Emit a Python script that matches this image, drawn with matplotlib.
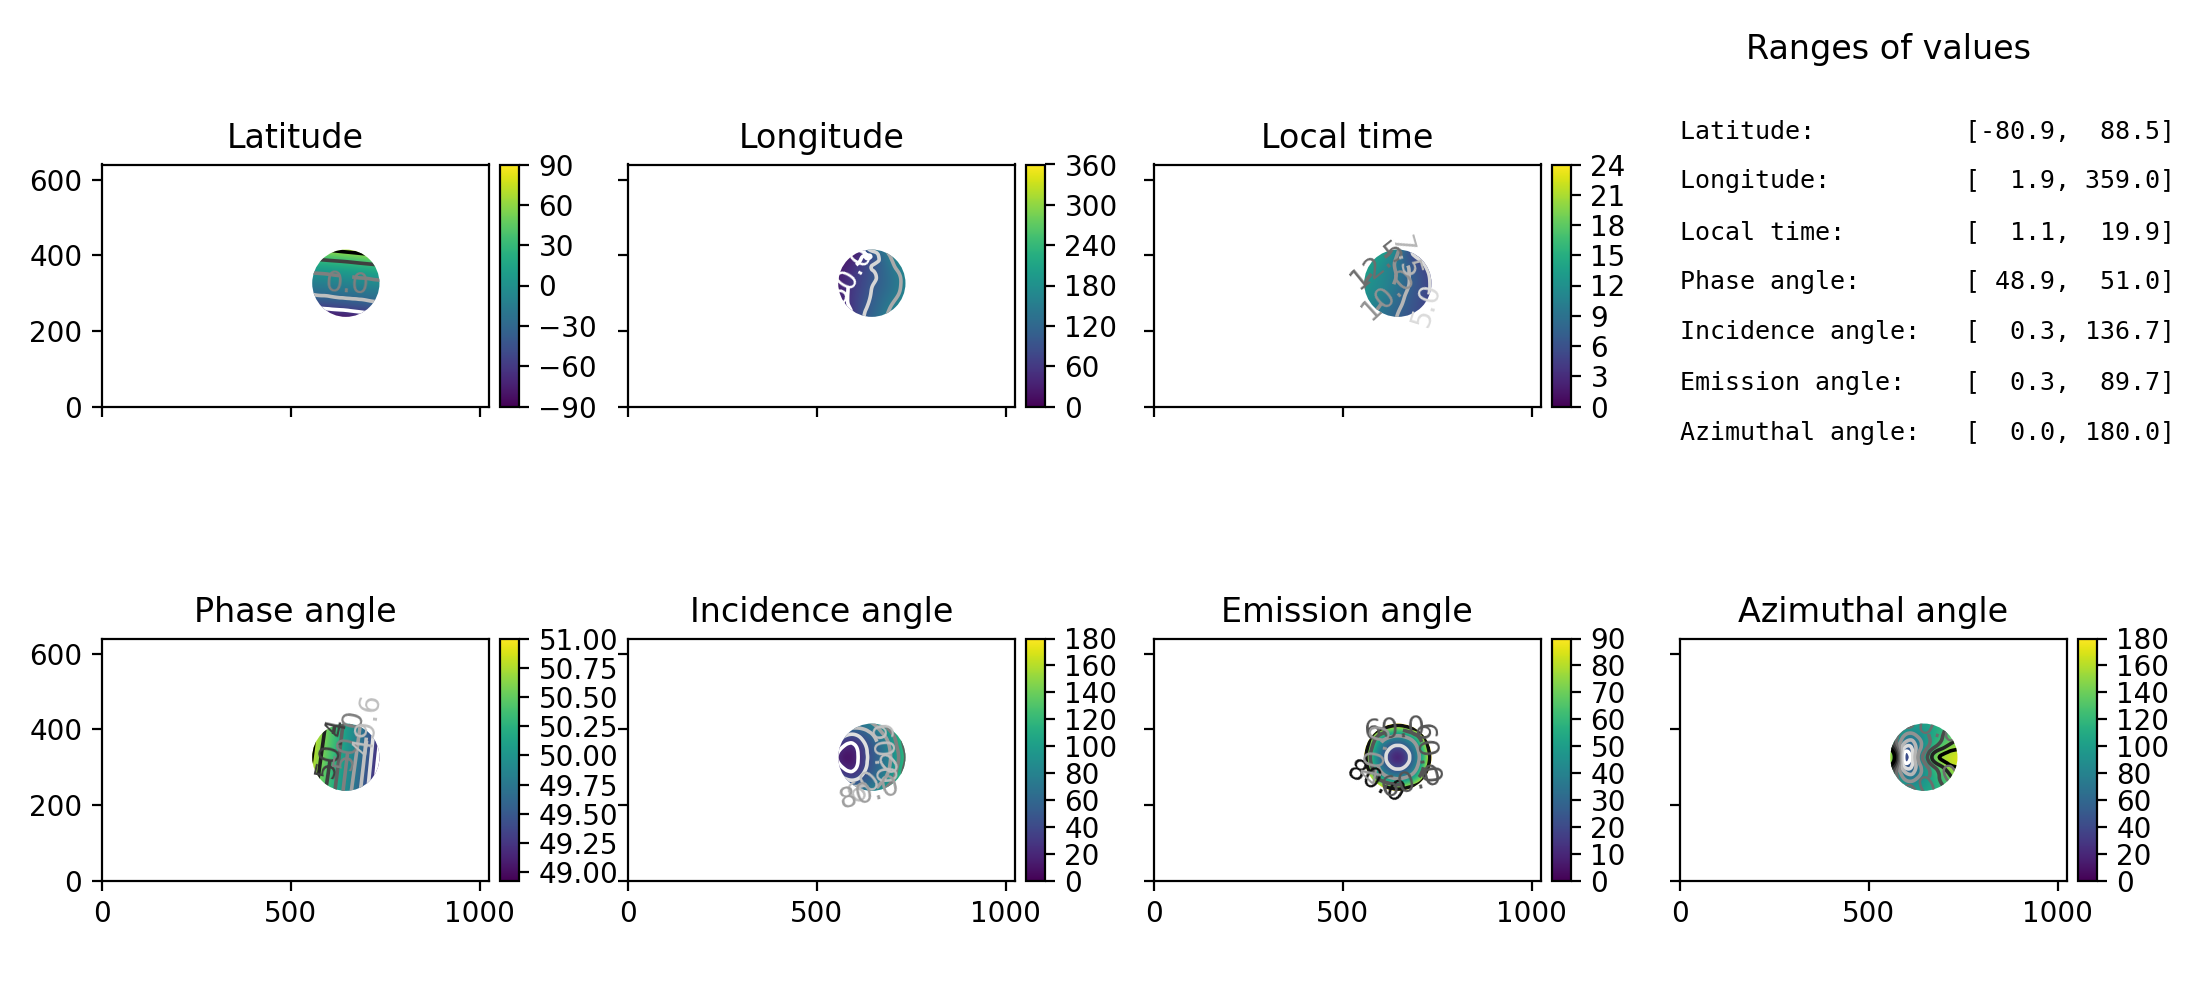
import numpy as np
import matplotlib
matplotlib.use('Agg')
import matplotlib.pyplot as plt
import matplotlib.tri as mtri
import matplotlib.patheffects as pe
from matplotlib.patches import Circle

# Values on a 9x9 grid over the disc, top row first
latitude = [
    [76, 79, 81, 83, 85, 87, 89, 89, 90],
    [46, 49, 51, 54, 57, 60, 63, 66, 69],
    [18, 20, 22, 24, 26, 29, 32, 35, 38],
    [-2, 0, 1, 3, 4, 6, 8, 10, 12],
    [-15, -14, -12, -11, -10, -8, -7, -5, -3],
    [-29, -28, -27, -25, -24, -23, -21, -20, -18],
    [-48, -46, -44, -42, -40, -38, -36, -33, -31],
    [-81, -78, -75, -72, -70, -66, -62, -58, -54],
    [-90, -90, -90, -89, -88, -86, -84, -81, -78],
]
longitude = [
    [5, 8, 12, 25, 320, 130, 170, 185, 188],
    [10, 15, 25, 42, 75, 125, 165, 178, 185],
    [15, 26, 41, 62, 88, 114, 146, 166, 178],
    [18, 33, 52, 73, 93, 114, 136, 155, 170],
    [20, 37, 56, 76, 96, 114, 133, 152, 168],
    [20, 38, 58, 80, 102, 121, 138, 155, 170],
    [18, 35, 60, 86, 107, 128, 149, 165, 178],
    [14, 25, 48, 92, 112, 135, 160, 175, 184],
    [10, 18, 45, 95, 120, 150, 170, 182, 188],
]
local_time = [
    [14.5, 14.3, 14.0, 13.5, 12.0, 8.0, 5.5, 4.5, 4.0],
    [14.5, 14.0, 13.5, 12.8, 10.0, 6.0, 4.5, 4.2, 4.0],
    [14.8, 14.0, 12.7, 11.2, 9.3, 7.2, 5.6, 4.5, 4.0],
    [14.0, 13.0, 11.8, 10.7, 9.7, 7.7, 6.3, 5.05, 4.2],
    [13.3, 12.3, 11.5, 10.6, 9.5, 7.7, 6.4, 5.2, 4.3],
    [12.8, 12.0, 11.0, 10.1, 8.8, 7.2, 6.1, 5.1, 4.3],
    [12.3, 11.3, 10.4, 9.2, 8.0, 6.9, 5.8, 4.9, 4.3],
    [11.7, 10.6, 9.6, 8.6, 7.5, 6.6, 5.6, 4.8, 4.2],
    [11.0, 10.0, 9.0, 8.2, 7.2, 6.3, 5.4, 4.7, 4.2],
]
phase_angle = [
    [51.07, 50.84, 50.62, 50.40, 50.15, 49.92, 49.67, 49.37, 49.12],
    [51.04, 50.81, 50.59, 50.37, 50.12, 49.89, 49.64, 49.34, 49.09],
    [51.01, 50.78, 50.56, 50.34, 50.09, 49.86, 49.61, 49.31, 49.06],
    [50.98, 50.75, 50.53, 50.31, 50.06, 49.83, 49.58, 49.28, 49.03],
    [50.95, 50.72, 50.50, 50.28, 50.03, 49.80, 49.55, 49.25, 49.00],
    [50.92, 50.69, 50.47, 50.25, 50.00, 49.77, 49.52, 49.22, 48.97],
    [50.89, 50.66, 50.44, 50.22, 49.97, 49.74, 49.49, 49.19, 48.94],
    [50.86, 50.63, 50.41, 50.19, 49.94, 49.71, 49.46, 49.16, 48.93],
    [50.83, 50.60, 50.38, 50.16, 49.91, 49.68, 49.43, 49.13, 48.93],
]
incidence_angle = [
    [95, 90, 85, 85, 90, 100, 115, 125, 135],
    [80, 72, 64, 64, 72, 90, 110, 125, 135],
    [50, 42, 32, 43, 56, 73, 94, 120, 135],
    [42, 22, 14, 31, 49, 66, 86, 115, 135],
    [40, 6, 5, 29, 46, 64, 83, 110, 135],
    [42, 22, 14, 31, 49, 66, 86, 115, 135],
    [50, 42, 32, 43, 56, 73, 94, 120, 135],
    [80, 72, 64, 64, 72, 90, 110, 125, 135],
    [95, 90, 85, 85, 90, 100, 115, 125, 135],
]
emission_angle = [
    [130, 125, 120, 120, 120, 120, 120, 125, 130],
    [125, 110, 92, 80, 72, 80, 92, 110, 125],
    [120, 92, 58, 42, 37, 42, 58, 92, 120],
    [120, 80, 42, 25, 16, 25, 42, 80, 120],
    [120, 72, 37, 16, 0.5, 16, 37, 72, 120],
    [120, 80, 42, 25, 16, 25, 42, 80, 120],
    [120, 92, 58, 42, 37, 42, 58, 92, 120],
    [125, 110, 92, 80, 72, 80, 92, 110, 125],
    [130, 125, 120, 120, 120, 120, 120, 125, 130],
]
azimuthal_angle = [
    [125, 118, 112, 108, 108, 112, 120, 128, 135],
    [140, 122, 104, 96, 98, 106, 118, 130, 140],
    [150, 115, 78, 72, 90, 108, 122, 135, 148],
    [165, 130, 45, 50, 88, 118, 138, 152, 160],
    [178, 172, 20, 48, 105, 148, 165, 172, 178],
    [165, 130, 45, 50, 88, 118, 142, 158, 165],
    [148, 115, 78, 72, 90, 110, 128, 142, 150],
    [135, 122, 104, 96, 98, 108, 120, 130, 140],
    [125, 118, 112, 108, 108, 112, 120, 128, 135],
]

titles = ['Latitude', 'Longitude', 'Local time', 'Phase angle',
          'Incidence angle', 'Emission angle', 'Azimuthal angle']
grids = [latitude, longitude, local_time, phase_angle,
         incidence_angle, emission_angle, azimuthal_angle]
color_limits = [(-90, 90), (0, 360), (0, 24), (48.93, 51.0), (0, 180), (0, 90), (0, 180)]
colorbar_ticks = [
    [-90, -60, -30, 0, 30, 60, 90],
    [0, 60, 120, 180, 240, 300, 360],
    [0, 3, 6, 9, 12, 15, 18, 21, 24],
    [49.0, 49.25, 49.5, 49.75, 50.0, 50.25, 50.5, 50.75, 51.0],
    [0, 20, 40, 60, 80, 100, 120, 140, 160, 180],
    [0, 10, 20, 30, 40, 50, 60, 70, 80, 90],
    [0, 20, 40, 60, 80, 100, 120, 140, 160, 180],
]
contour_levels = [
    [-60, -30, 0, 30, 60],
    [50, 100, 150, 200, 250, 300, 350],
    [5, 7.5, 10, 12.5],
    [49.2, 49.4, 49.6, 49.8, 50.0, 50.2, 50.4, 50.6, 50.8],
    [20, 40, 60, 80, 100, 120],
    [20, 40, 60, 80],
    [20, 40, 60, 80, 100, 120, 140, 160],
]
contour_limits = [(-60, 60), (50, 350), (2.5, 20), (49.2, 50.8), (20, 180), (10, 85), (20, 160)]

range_names = titles
range_low = [-80.9, 1.9, 1.1, 48.9, 0.3, 0.3, 0.0]
range_high = [88.5, 359.0, 19.9, 51.0, 136.7, 89.7, 180.0]

# contour label spots, in disc radii from the centre (x right, y down)
label_spots = [
    [(0.0, -0.2)],
    [(-0.7, -0.3)],
    [(-0.6, -0.55), (-0.3, 0.3), (0.25, -0.8), (0.8, 0.6)],
    [(-0.43, -0.3), (0.04, -0.55), (0.55, -1.0)],
    [(0.3, -0.1), (0.05, 0.6), (-0.1, 1.0)],
    [(-0.65, 0.7), (-0.1, -0.85), (0.85, -0.1), (0.4, 0.76), (-0.6, -0.1)],
    [(-0.05, -0.85), (0.0, 1.0)],
]

FIG_W, FIG_H = 2200, 1000
AX_W, AX_H = 387, 242
CENTER = (646, 326)
RADIUS = 89
offsets = np.linspace(-1.2, 1.2, 9)
half_cell = 1.35


def place(left, top, width, height):
    return fig.add_axes([left / FIG_W, 1 - (top + height) / FIG_H, width / FIG_W, height / FIG_H])


fig = plt.figure(figsize=(11, 5), dpi=200)

slots = [(101.7, 164.5), (627.7, 164.5), (1153.7, 164.5),
         (101.7, 638.5), (627.7, 638.5), (1153.7, 638.5), (1679.7, 638.5)]

for i, (left, top) in enumerate(slots):
    ax = place(left, top, AX_W, AX_H)
    cax = place(left + 398.3, top, 19, AX_H)
    data = np.array(grids[i], dtype=float)
    vmin, vmax = color_limits[i]

    extent = (CENTER[0] - half_cell * RADIUS, CENTER[0] + half_cell * RADIUS,
              CENTER[1] - half_cell * RADIUS, CENTER[1] + half_cell * RADIUS)
    im = ax.imshow(data, extent=extent, origin='upper', cmap='viridis', vmin=vmin, vmax=vmax,
                   interpolation='bicubic', aspect='auto')
    disc = Circle(CENTER, RADIUS, transform=ax.transData)
    im.set_clip_path(disc)

    # smooth contours from the coarse grid
    xx, yy = np.meshgrid(CENTER[0] + RADIUS * offsets, CENTER[1] + RADIUS * offsets)
    tri = mtri.Triangulation(xx.ravel(), yy.ravel())
    tri_fine, z_fine = mtri.UniformTriRefiner(tri).refine_field(data[::-1].ravel(), subdiv=3)
    lo, hi = contour_limits[i]
    cs = ax.tricontour(tri_fine, z_fine, levels=contour_levels[i], cmap='gray_r',
                       vmin=lo, vmax=hi, linewidths=1.3)
    spots = [(CENTER[0] + RADIUS * dx, CENTER[1] - RADIUS * dy) for dx, dy in label_spots[i]]
    labels = ax.clabel(cs, manual=spots, fmt='%.1f', inline=True, fontsize=10)
    cs.set_clip_path(disc)
    if i == 0:
        # the 0.0 sits below its line in the original
        labels[0].set_position((CENTER[0] + 0.03 * RADIUS, CENTER[1] - 0.03 * RADIUS))
    if i == 6:
        # Agg only clips text to a path when it is drawn as a path
        for label in labels:
            label.set_path_effects([pe.Normal()])
            label.set_clip_on(True)
            label.set_clip_path(disc)

    ax.set_xlim(0, 1024)
    ax.set_ylim(0, 640)
    ax.set_xticks([0, 500, 1000])
    ax.set_yticks([0, 200, 400, 600])
    ax.tick_params(labelsize=10)
    if i < 3:
        ax.set_xticklabels([])
    if i not in (0, 3):
        ax.set_yticklabels([])
    ax.set_title(titles[i], fontsize=12)

    cb = fig.colorbar(im, cax=cax, ticks=colorbar_ticks[i])
    cb.ax.tick_params(labelsize=10)
    if i == 3:
        cb.ax.set_yticklabels(['%.2f' % t for t in colorbar_ticks[i]])

# Ranges panel
fig.text(1888 / FIG_W, 1 - 49 / FIG_H, 'Ranges of values', fontsize=12, ha='center', va='center')
line_y = [131, 181, 232, 282, 332, 383, 433]
for name, low, high, y in zip(range_names, range_low, range_high, line_y):
    line = f"{name + ':':<19s}[{low:5.1f}, {high:5.1f}]"
    fig.text(1680 / FIG_W, 1 - y / FIG_H, line, fontsize=9, family='DejaVu Sans Mono',
             ha='left', va='center')

fig.savefig('out.png', dpi=200)
